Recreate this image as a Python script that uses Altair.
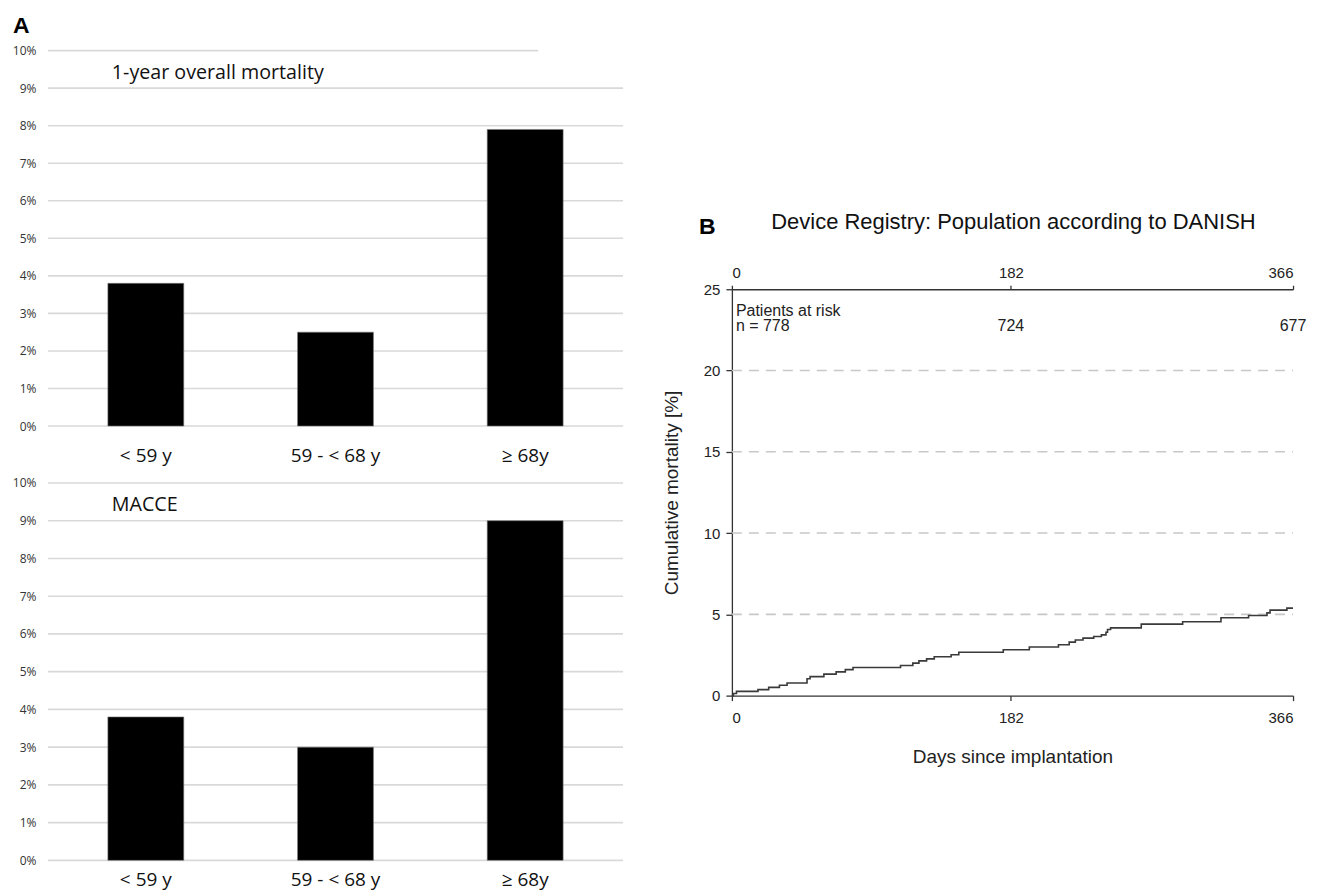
import altair as alt
import pandas as pd

# ---------------- Panel A data ----------------
age_groups = ["< 59 y", "59 - < 68 y", "≥ 68y"]
mortality_1y = [0.038, 0.025, 0.079]
macce = [0.038, 0.030, 0.090]
pct_ticks = [0.0, 0.01, 0.02, 0.03, 0.04, 0.05, 0.06, 0.07, 0.08, 0.09, 0.10]

# ---------------- Panel B data ----------------
km_days = [0, 1, 3, 17, 24, 31, 36, 49, 51, 60, 68, 74, 79, 110, 118, 122, 127, 132,
           143, 148, 177, 194, 213, 220, 224, 229, 236, 241, 244, 245, 247, 267, 294,
           319, 337, 349, 351, 362, 366]
km_cum = [0.0, 0.13, 0.26, 0.37, 0.51, 0.64, 0.78, 1.04, 1.17, 1.32, 1.46, 1.60, 1.73,
          1.85, 2.00, 2.14, 2.26, 2.39, 2.51, 2.67, 2.82, 2.99, 3.13, 3.29, 3.42, 3.54,
          3.64, 3.74, 3.90, 4.07, 4.17, 4.40, 4.54, 4.79, 4.93, 5.09, 5.26, 5.38, 5.38]
risk_days = [0, 182, 366]
risk_labels = ["n = 778", "724", "677"]
b_xticks = [0, 182, 366]
b_yticks = [0, 5, 10, 15, 20, 25]
b_grid = [5, 10, 15, 20]

A_W = 576
B_W, B_H = 562, 407
FONT_A = "Open Sans"
FONT_B = "Liberation Sans"
GRID_A = "#d9d9d9"


def marker(x, y):
    # invisible 1px rule used only to fix the layout bounds of a column
    return alt.Chart(pd.DataFrame({"m": [0]})).mark_rule(opacity=0, strokeWidth=1).encode(
        x=alt.value(x), x2=alt.value(x + 1), y=alt.value(y))


def bar_panel(values, label, height, short_top, label_pad, top_panel):
    df = pd.DataFrame({"group": age_groups, "value": values})
    yscale = alt.Scale(domain=[0, 0.1], nice=False)
    yaxis = alt.Axis(title=None, values=pct_ticks, format=".0%", domain=False, ticks=False,
                     tickSize=0, labelPadding=12, labelFont=FONT_A, labelFontSize=12,
                     labelColor="#333", grid=False)
    full_lines = pct_ticks[:-1] if short_top else pct_ticks
    grid_full = alt.Chart(pd.DataFrame({"value": full_lines})).mark_rule(
        color=GRID_A, strokeWidth=1.6).encode(
        y=alt.Y("value:Q", scale=yscale, axis=yaxis), x=alt.value(0), x2=alt.value(A_W))
    layers = [grid_full]
    if short_top:
        grid_short = alt.Chart(pd.DataFrame({"value": pct_ticks[-1:]})).mark_rule(
            color=GRID_A, strokeWidth=1.6).encode(
            y=alt.Y("value:Q", scale=yscale, axis=yaxis), x=alt.value(0), x2=alt.value(491))
        layers.append(grid_short)
    bars = alt.Chart(df).mark_bar(color="black", stroke="#777", strokeWidth=0.6).encode(
        x=alt.X("group:N", sort=age_groups,
                scale=alt.Scale(paddingInner=0.6, paddingOuter=0.316),
                axis=alt.Axis(title=None, labelAngle=0, domain=False, ticks=False,
                              labelFont=FONT_A, labelFontSize=19, labelColor="#111",
                              labelPadding=label_pad)),
        y=alt.Y("value:Q", scale=yscale, axis=yaxis),
    )
    layers.append(bars)
    txt = alt.Chart(pd.DataFrame({"t": [label]})).mark_text(
        align="left", baseline="middle", font=FONT_A, fontSize=19.7, color="#111").encode(
        text="t:N", x=alt.value(64), y=alt.value(22))
    layers.append(txt)
    if top_panel:
        letter = alt.Chart(pd.DataFrame({"t": ["A"]})).mark_text(
            align="left", baseline="middle", font=FONT_B, fontSize=23, fontWeight="bold",
            color="black").encode(text="t:N", x=alt.value(-35), y=alt.value(-25))
        layers.append(letter)
        layers.append(marker(-40, -40))
    return alt.layer(*layers).properties(width=A_W, height=height)


top = bar_panel(mortality_1y, "1-year overall mortality", 376, True, 21, True)
bottom = bar_panel(macce, "MACCE", 378, False, 10, False)

# ---------------- Panel B ----------------
xs = alt.Scale(domain=[0, 366], nice=False)
ys = alt.Scale(domain=[0, 25], nice=False)
km = pd.DataFrame({"day": km_days, "cum": km_cum})

b_yaxis = alt.Axis(title="Cumulative mortality [%]", values=b_yticks,
                   domainColor="#333", domainWidth=1.3, tickColor="#333", tickSize=6,
                   tickWidth=1.3, labelFont=FONT_B, labelFontSize=15, labelColor="#222",
                   labelPadding=6, titleFont=FONT_B, titleFontSize=19,
                   titleFontWeight="normal", titleColor="#222", titlePadding=22,
                   grid=False)

grid = alt.Chart(pd.DataFrame({"cum": b_grid})).mark_rule(
    color="#c8c8c8", strokeWidth=1.6, strokeDash=[10, 7]).encode(
    y=alt.Y("cum:Q", scale=ys, axis=b_yaxis), x=alt.value(0), x2=alt.value(B_W))

line = alt.Chart(km).mark_line(interpolate="step-after", color="#3a3a3a", strokeWidth=1.6).encode(
    x=alt.X("day:Q", scale=xs,
            axis=alt.Axis(title="Days since implantation", values=b_xticks, orient="bottom",
                          domainColor="#333", domainWidth=1.3, tickColor="#333", tickSize=5,
                          tickWidth=1.3, labelFont=FONT_B, labelFontSize=15, labelColor="#222",
                          labelPadding=10, titleFont=FONT_B, titleFontSize=19,
                          titleFontWeight="normal", titleColor="#222", titlePadding=22,
                          grid=False)),
    y=alt.Y("cum:Q", scale=ys, axis=b_yaxis),
)

top_axis = alt.Chart(pd.DataFrame({"t": b_xticks})).mark_point(opacity=0).encode(
    x=alt.X("t:Q", scale=xs,
            axis=alt.Axis(title=None, values=b_xticks, orient="top", domainColor="#333",
                          domainWidth=1.3, tickColor="#333", tickSize=4, tickWidth=1.3,
                          labelFont=FONT_B, labelFontSize=15, labelColor="#222",
                          labelPadding=5, grid=False)),
    y=alt.value(0))

risk_df = pd.DataFrame({"day": risk_days, "label": risk_labels,
                        "cum": [22.75, 22.75, 22.75]})
head_df = pd.DataFrame({"day": [risk_days[0]], "label": ["Patients at risk"], "cum": [23.65]})


def risk_text(df, align, dx):
    return alt.Chart(df).mark_text(
        align=align, baseline="middle", font=FONT_B, fontSize=16, color="#222", dx=dx).encode(
        x=alt.X("day:Q", scale=xs, axis=None), y=alt.Y("cum:Q", scale=ys, axis=b_yaxis),
        text="label:N")


risk_head = risk_text(head_df, "left", 4)
risk_first = risk_text(risk_df.iloc[:1], "left", 4)
risk_rest = risk_text(risk_df.iloc[1:], "center", 0)

letter_b = alt.Chart(pd.DataFrame({"t": ["B"]})).mark_text(
    align="left", baseline="middle", font=FONT_B, fontSize=23, fontWeight="bold",
    color="black").encode(text="t:N", x=alt.value(-33), y=alt.value(-62))

title_b = alt.Chart(pd.DataFrame({"t": ["Device Registry: Population according to DANISH"]})).mark_text(
    align="center", baseline="middle", font=FONT_B, fontSize=22, color="#111").encode(
    text="t:N", x=alt.value(B_W / 2 + 1), y=alt.value(-67))

km_chart = alt.layer(grid, line, top_axis, risk_head, risk_first, risk_rest, letter_b,
                     title_b).resolve_axis(x="independent").properties(width=B_W, height=B_H)

spacer = marker(-80, 0).properties(width=B_W, height=199)

left = alt.vconcat(top, bottom, spacing=57, bounds="flush")
right = alt.vconcat(spacer, km_chart, spacing=40, bounds="flush")

chart = alt.hconcat(left, right, spacing=28).properties(
    padding={"left": 0, "top": 2, "right": 5, "bottom": 0}
).configure_view(stroke=None)

chart.save("out.html", embed_options={"renderer": "svg", "actions": False})
